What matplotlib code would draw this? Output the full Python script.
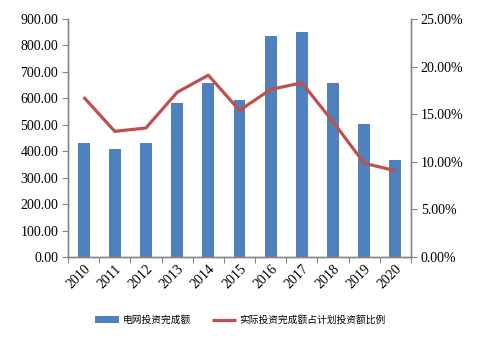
import numpy as np
import matplotlib
matplotlib.use('Agg')
import matplotlib.pyplot as plt

years = ['2010', '2011', '2012', '2013', '2014', '2015',
         '2016', '2017', '2018', '2019', '2020']
# 电网投资完成额 (left axis)
invest = [432, 410, 432, 582, 658, 593, 836, 852, 658, 503, 366]
# 实际投资完成额占计划投资额比例 (right axis, %)
ratio = [16.8, 13.2, 13.55, 17.3, 19.1, 15.4, 17.6, 18.3, 14.2, 9.85, 9.06]

bar_label = '电网投资完成额'
line_label = '实际投资完成额占计划投资额比例'

blue = '#4F81BD'
red = '#C0504D'
axis_gray = '#868686'
num_font = 'Liberation Serif'
cjk_font = ['Noto Sans CJK SC', 'DejaVu Sans']

fig = plt.figure(figsize=(4.81, 3.48), dpi=100)
ax = fig.add_axes([68/481, 1-257/348, (411-68)/481, (257-19)/348])
ax2 = ax.twinx()

x = np.arange(len(years))
bars = ax.bar(x, invest, width=0.38, color=blue, label=bar_label, zorder=2)
line, = ax2.plot(x, ratio, color=red, lw=2.3, label=line_label,
                 solid_capstyle='butt', zorder=3)

ax.set_xlim(-0.5, len(years) - 0.5)
ax.set_ylim(0, 900)
ax.set_yticks(np.arange(0, 901, 100))
ax.set_yticklabels(['%.2f' % v for v in np.arange(0, 901, 100)],
                   fontsize=10, family=num_font)
ax2.set_ylim(0, 25)
ax2.set_yticks(np.arange(0, 26, 5))
ax2.set_yticklabels(['%.2f%%' % v for v in np.arange(0, 26, 5)],
                    fontsize=10, family=num_font)

# category ticks sit between bars, labels at the bar centres
ax.set_xticks(np.arange(-0.5, len(years), 1))
ax.set_xticklabels([])
ax.set_xticks(x, minor=True)
ax.set_xticklabels(years, minor=True, rotation=45, ha='right',
                   rotation_mode='anchor', fontsize=10, family=num_font)
ax.tick_params(axis='x', which='minor', length=0, pad=4)
ax.tick_params(axis='x', which='major', length=4, color=axis_gray, direction='out')
ax.tick_params(axis='y', length=4, color=axis_gray, pad=3)
ax2.tick_params(axis='y', length=4, color=axis_gray, pad=3)

for a in (ax, ax2):
    a.spines['top'].set_visible(False)
    for s in ('left', 'right', 'bottom'):
        a.spines[s].set_color(axis_gray)
        a.spines[s].set_linewidth(1.0)
ax.set_zorder(ax2.get_zorder() - 1)
ax2.patch.set_visible(False)

fig.legend([bars, line], [bar_label, line_label], loc='center',
           bbox_to_anchor=(0.5, 1 - 320/348), ncol=2, frameon=False,
           prop={'family': cjk_font, 'size': 7}, handlelength=2.4,
           columnspacing=2.2, handletextpad=0.4)

fig.savefig('out.png', dpi=100)
